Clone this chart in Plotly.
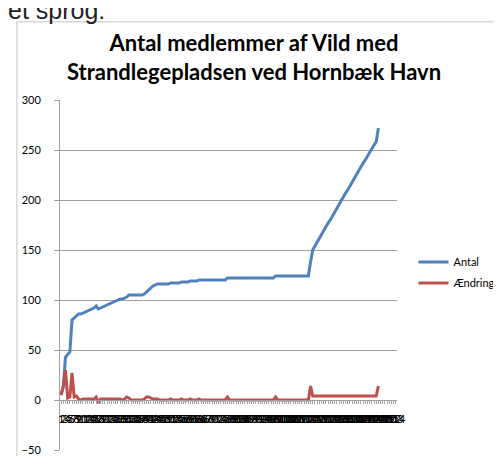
import plotly.graph_objects as go

# ---- data ----
categories = [str(i) for i in range(1, 155)]

antal = [5, 13, 43, 45, 48, 80, 82, 85, 86, 86, 87, 88, 89, 90, 91, 92, 94, 91, 92, 93,
         94, 95, 96, 97, 98, 99, 100, 101, 101, 102, 103, 105,
         105, 105, 105, 105, 105, 105,
         106, 108, 111, 113, 114, 115, 116,
         116, 116, 116, 116, 116,
         117, 117, 117, 117, 117,
         118, 118, 118, 118,
         119, 119, 119, 119,
         120, 120, 120, 120, 120, 120, 120, 120, 120, 120, 120, 120, 120,
         122, 122, 122, 122, 122, 122, 122, 122, 122, 122, 122, 122, 122, 122, 122, 122,
         122, 122, 122, 122, 122, 122,
         124, 124, 124, 124, 124, 124, 124, 124, 124, 124, 124, 124, 124, 124, 124, 124,
         138,
         150, 154, 158, 162, 165, 169, 173, 177, 180, 184, 188, 192, 195, 199, 203, 207,
         210, 214, 218, 222, 225, 229, 233, 237, 240, 244, 248, 252, 255, 258, 272]

aendring = [5, 14, 30, 2, 3, 27, 3, 4, 1, 0, 1, 1, 1, 1, 1, 1, 3, -3, 1, 1,
            1, 1, 1, 1, 1, 1, 1, 1, 0, 1, 3, 2,
            0, 0, 0, 0, 0, 0,
            1, 3, 3, 2, 1, 1, 1,
            0, 0, 0, 0, 0,
            1, 0, 0, 0, 0,
            1, 0, 0, 0,
            1, 0, 0, 0,
            1, 0, 0, 0, 0, 0, 0, 0, 0, 0, 0, 0, 0,
            3, 0, 0, 0, 0, 0, 0, 0, 0, 0, 0, 0, 0, 0, 0, 0,
            0, 0, 0, 0, 0, 0,
            3, 0, 0, 0, 0, 0, 0, 0, 0, 0, 0, 0, 0, 0, 0, 0,
            14,
            4, 4, 4, 4, 4, 4, 4, 4, 4, 4, 4, 4, 4, 4, 4, 4,
            4, 4, 4, 4, 4, 4, 4, 4, 4, 4, 4, 4, 4, 4, 14]

y_ticks = [-50, 0, 50, 100, 150, 200, 250, 300]

# ---- layout geometry (pixels) ----
W, H = 501, 456
L, R, T, B = 52, 101, 92, 8
PW, PH = W - L - R, H - T - B


def fx(px):
    return (px - L) / PW


def fy(py):
    return 1 - (py - T) / PH


BLUE = "#4F81BD"
RED = "#C0504D"
GRID = "#a0a0a0"
FONT = "Lato"

fig = go.Figure()
fig.add_trace(go.Scatter(x=categories[:len(antal)], y=antal, name="Antal",
                         mode="lines", line=dict(color=BLUE, width=3),
                         legendgroup="a"))
fig.add_trace(go.Scatter(x=categories[:len(aendring)], y=aendring, name="Ændring",
                         mode="lines", line=dict(color=RED, width=3),
                         legendgroup="b"))

fig.update_layout(
    width=W, height=H,
    margin=dict(l=L, r=R, t=T, b=B, pad=0),
    paper_bgcolor="white", plot_bgcolor="white",
    font=dict(family=FONT, color="#000000"),
    title=dict(text="<b>Antal medlemmer af Vild med<br>Strandlegepladsen ved Hornbæk Havn</b>",
               x=246 / W, xanchor="center", xref="container",
               y=1 - 43 / H, yanchor="top", yref="container",
               font=dict(family=FONT, size=22, color="#000000")),
    showlegend=True,
    legend=dict(x=fx(417), y=fy(242), xanchor="left", yanchor="top",
                font=dict(family=FONT, size=11, color="#000000"),
                traceorder="grouped", tracegroupgap=2,
                bgcolor="rgba(0,0,0,0)"),
    xaxis=dict(type="category", categoryorder="array", categoryarray=categories,
               range=[-0.5, len(categories) - 0.5],
               tickmode="array", tickvals=categories, ticktext=categories,
               tickangle=0, tickfont=dict(family=FONT, size=11, color="#000000"),
               ticks="outside", ticklen=3, tickcolor=GRID, tickwidth=1,
               ticklabelstandoff=6,
               showgrid=False, showline=True, linecolor=GRID, linewidth=1,
               anchor="free", position=50 / 350, zeroline=False),
    yaxis=dict(range=[-50, 300], tickvals=y_ticks,
               tickfont=dict(family=FONT, size=11, color="#000000"),
               ticks="outside", ticklen=5, tickcolor=GRID,
               showgrid=True, gridcolor=GRID, gridwidth=1,
               showline=True, linecolor=GRID, linewidth=1,
               zeroline=False, ticklabelstandoff=11),
    shapes=[
        dict(type="line", xref="paper", yref="paper",
             x0=fx(7.5), x1=fx(7.5), y0=fy(12.5), y1=fy(H + 5),
             line=dict(color="#c4c4c4", width=1)),
        dict(type="line", xref="paper", yref="paper",
             x0=fx(7.5), x1=fx(W + 5), y0=fy(12.5), y1=fy(12.5),
             line=dict(color="#c4c4c4", width=1)),
    ],
    annotations=[
        dict(text="et sprog:", xref="paper", yref="paper",
             x=fx(101), y=fy(0), xanchor="right", yanchor="middle",
             showarrow=False, font=dict(family="Liberation Sans", size=25, color="#222222")),
    ],
)

fig.write_html("out.html")
